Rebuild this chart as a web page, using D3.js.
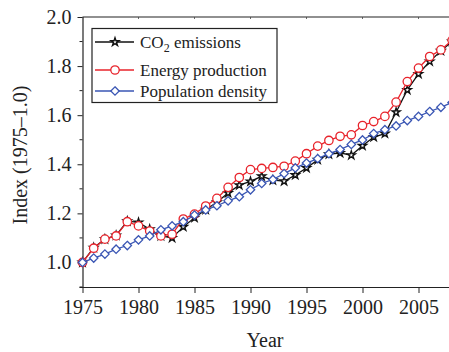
<!DOCTYPE html>
<html>
<head>
<meta charset="utf-8">
<script src="https://cdn.jsdelivr.net/npm/d3@7/dist/d3.min.js"></script>
<style>
  html, body { margin: 0; padding: 0; background: #fff; }
  svg { display: block; }
  text { font-family: "Liberation Serif", "Times New Roman", serif; fill: #222; }
</style>
</head>
<body>
<svg id="chart" width="449" height="352"></svg>
<script>
// Indices relative to 1975 (=1.0)
const years = d3.range(1975, 2009);
const co2 = [1.00, 1.06, 1.095, 1.11, 1.168, 1.163, 1.135, 1.108, 1.10, 1.145, 1.182,
  1.215, 1.245, 1.283, 1.315, 1.330, 1.351, 1.335, 1.331, 1.356, 1.385, 1.418, 1.441,
  1.446, 1.437, 1.475, 1.511, 1.525, 1.612, 1.703, 1.768, 1.819, 1.862, 1.90];
const energy = [1.00, 1.058, 1.095, 1.108, 1.166, 1.149, 1.128, 1.108, 1.115, 1.177, 1.197,
  1.230, 1.261, 1.306, 1.346, 1.378, 1.383, 1.387, 1.392, 1.413, 1.443, 1.474, 1.497,
  1.514, 1.520, 1.558, 1.574, 1.595, 1.653, 1.737, 1.792, 1.839, 1.866, 1.905];
const population = [1.00, 1.018, 1.034, 1.054, 1.069, 1.092, 1.108, 1.133, 1.149, 1.166, 1.193,
  1.214, 1.231, 1.251, 1.268, 1.296, 1.322, 1.338, 1.362, 1.385, 1.405, 1.423, 1.443,
  1.460, 1.481, 1.499, 1.525, 1.541, 1.556, 1.578, 1.595, 1.615, 1.632, 1.652];
const xTicks = [1975, 1980, 1985, 1990, 1995, 2000, 2005];
const yTicks = [1.0, 1.2, 1.4, 1.6, 1.8, 2.0];
const yMinor = [0.9, 1.1, 1.3, 1.5, 1.7, 1.9];

const series = [
  { name: "CO2", values: co2, color: "#111111", marker: "star" },
  { name: "Energy production", values: energy, color: "#e8232b", marker: "circle" },
  { name: "Population density", values: population, color: "#3a56b4", marker: "diamond" }
];

const svg = d3.select("#chart");
const plotLeft = 82.5, plotTop = 17, plotBottom = 287;
const x = d3.scaleLinear().domain([1975, 2008]).range([plotLeft, plotLeft + 33 * 11.2]);
const y = d3.scaleLinear().domain([0.9, 2.0]).range([plotBottom, plotTop]);

// top frame line
svg.append("line").attr("x1", plotLeft).attr("x2", 449).attr("y1", plotTop).attr("y2", plotTop)
  .attr("stroke", "#222").attr("stroke-width", 1.2);
svg.append("g").selectAll("line").data(xTicks.slice(1)).join("line")
  .attr("x1", d => x(d)).attr("x2", d => x(d)).attr("y1", plotTop).attr("y2", plotTop + 2)
  .attr("stroke", "#444").attr("stroke-width", 0.8);

// x axis
const gx = svg.append("g").attr("transform", `translate(0,${plotBottom})`)
  .call(d3.axisBottom(x).tickValues(xTicks).tickFormat(d3.format("d")).tickSize(6).tickPadding(7));
gx.select(".domain").attr("d", `M${plotLeft - 3},0.5H449`).attr("stroke", "#222").attr("stroke-width", 1.2);
gx.selectAll(".tick line").attr("stroke", "#222").attr("stroke-width", 1);
gx.selectAll("text").attr("font-size", 20).attr("fill", "#222")
  .style("font-family", "'Liberation Serif', serif");

// y axis
const gy = svg.append("g").attr("transform", `translate(${plotLeft},0)`)
  .call(d3.axisLeft(y).tickValues(yTicks).tickFormat(d3.format(".1f")).tickSize(5).tickPadding(6));
gy.select(".domain").attr("d", `M0.5,${plotTop}V${plotBottom}`).attr("stroke", "#222").attr("stroke-width", 1.2);
gy.selectAll(".tick line").attr("stroke", "#222").attr("stroke-width", 1);
gy.selectAll("text").attr("font-size", 20).attr("fill", "#222")
  .style("font-family", "'Liberation Serif', serif");
gy.append("g").selectAll("line").data(yMinor).join("line")
  .attr("x1", -3).attr("x2", 0).attr("y1", d => y(d)).attr("y2", d => y(d))
  .attr("stroke", "#222").attr("stroke-width", 1);

// axis titles
svg.append("text").attr("x", 265).attr("y", 347).attr("text-anchor", "middle")
  .attr("font-size", 20).text("Year");
svg.append("text").attr("transform", `translate(27,${(plotTop + plotBottom) / 2 + 3}) rotate(-90)`)
  .attr("text-anchor", "middle").attr("font-size", 20).text("Index (1975\u20131.0)");

// marker shapes
function drawMarker(sel, m, color) {
  if (m === "circle") {
    sel.append("circle").attr("r", 4.2).attr("fill", "#fff").attr("stroke", color).attr("stroke-width", 1.3);
  } else if (m === "diamond") {
    sel.append("path").attr("d", "M0,-4.2L4.2,0L0,4.2L-4.2,0Z")
      .attr("fill", "#fff").attr("stroke", color).attr("stroke-width", 1.3);
  } else {
    sel.append("path").attr("d", d3.symbol(d3.symbolStar, 20)())
      .attr("fill", "#fff").attr("stroke", color).attr("stroke-width", 1.4);
  }
}

const plot = svg.append("g");
const line = d3.line().x((d, i) => x(years[i])).y(d => y(d));
series.forEach(s => {
  const g = plot.append("g");
  g.append("path").datum(s.values).attr("d", line)
    .attr("fill", "none").attr("stroke", s.color).attr("stroke-width", 1.3);
  g.selectAll("g.pt").data(s.values).join("g").attr("class", "pt")
    .attr("transform", (d, i) => `translate(${x(years[i])},${y(d)})`)
    .each(function () { drawMarker(d3.select(this), s.marker, s.color); });
});

// legend
const lg = svg.append("g");
lg.append("rect").attr("x", 92).attr("y", 28.5).attr("width", 185).attr("height", 74)
  .attr("fill", "#fff").attr("stroke", "#222").attr("stroke-width", 1.2);
const rows = [42, 70, 91];
series.forEach((s, i) => {
  const r = lg.append("g").attr("transform", `translate(0,${rows[i]})`);
  r.append("line").attr("x1", 95).attr("x2", 134).attr("y1", 0).attr("y2", 0)
    .attr("stroke", s.color).attr("stroke-width", 1.3);
  const m = r.append("g").attr("transform", "translate(115,0)");
  drawMarker(m, s.marker, s.color);
  const t = r.append("text").attr("x", 140).attr("y", 6).attr("font-size", 17);
  if (i === 0) {
    t.append("tspan").text("CO");
    t.append("tspan").attr("font-size", 12).attr("dy", 4).text("2");
    t.append("tspan").attr("dy", -4).text(" emissions");
  } else {
    t.text(s.name);
  }
});
</script>
</body>
</html>
